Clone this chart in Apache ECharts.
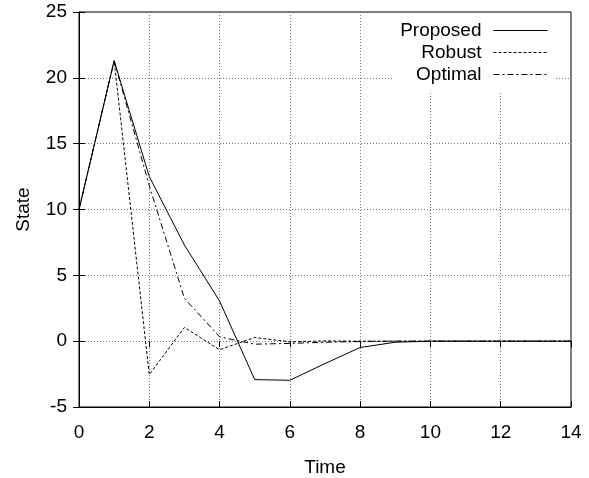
<!DOCTYPE html>
<html>
<head>
    <meta charset="utf-8">
    <title>State</title>
    <script src="https://cdn.jsdelivr.net/npm/echarts@6/dist/echarts.min.js"></script>
</head>
<body style="margin:0;">
    <div id="main" style="width: 589px;height:478px;"></div>
    <script type="text/javascript">
        var myChart = echarts.init(document.getElementById('main'));

        // time steps and the three state trajectories
        var time = [0, 1, 2, 3, 4, 5, 6, 7, 8, 9, 10, 11, 12, 13, 14];
        var proposed = [10, 21.3, 12.5, 7.3, 3.05, -2.92, -2.97, -1.7, -0.48, -0.08, 0, 0, 0, 0, 0];
        var robust = [10, 21.3, -2.54, 1.04, -0.65, 0.28, -0.05, 0.02, 0, 0, 0, 0, 0, 0, 0];
        var optimal = [10, 21.3, 11.8, 3.25, 0.33, -0.23, -0.17, -0.08, -0.03, 0, 0, 0, 0, 0, 0];

        function pairs(ys) {
            var out = [];
            for (var i = 0; i < time.length; i++) {
                out.push([time[i], ys[i]]);
            }
            return out;
        }

        var font = 'Liberation Sans';
        var gridLine = { show: true, lineStyle: { color: '#777', type: [1, 2], width: 1 } };
        var tick = { show: true, inside: true, length: 6, lineStyle: { color: '#000' } };

        var option = {
            animation: false,
            grid: {
                left: 79, right: 18, top: 12, bottom: 71,
                outerBoundsMode: 'none',
                show: true, borderColor: '#000', borderWidth: 1
            },
            legend: {
                orient: 'vertical',
                align: 'right',
                right: 33,
                top: 13,
                padding: 8,
                itemGap: 3,
                itemWidth: 54,
                itemHeight: 14,
                backgroundColor: '#fff',
                itemStyle: { opacity: 0, borderWidth: 0 },
                lineStyle: { width: 1 },
                textStyle: { fontFamily: font, fontSize: 19, color: '#000', padding: [0, 7, 0, 0] },
                data: ['Proposed', 'Robust', 'Optimal']
            },
            xAxis: [{
                type: 'value', min: 0, max: 14, interval: 2,
                name: 'Time', nameLocation: 'middle', nameGap: 51,
                nameTextStyle: { fontFamily: font, fontSize: 19, color: '#000' },
                axisLine: { show: true, onZero: false, lineStyle: { color: '#000' } },
                axisTick: tick,
                axisLabel: { fontFamily: font, fontSize: 19, color: '#000', margin: 16 },
                splitLine: gridLine
            }, {
                type: 'value', min: 0, max: 14, interval: 2, position: 'top',
                axisLine: { show: false }, axisTick: tick,
                axisLabel: { show: false }, splitLine: { show: false }
            }],
            yAxis: [{
                type: 'value', min: -5, max: 25, interval: 5,
                name: 'State', nameLocation: 'middle', nameGap: 46,
                nameTextStyle: { fontFamily: font, fontSize: 19, color: '#000' },
                axisLine: { show: true, onZero: false, lineStyle: { color: '#000' } },
                axisTick: tick,
                axisLabel: { fontFamily: font, fontSize: 19, color: '#000', margin: 12 },
                splitLine: gridLine
            }, {
                type: 'value', min: -5, max: 25, interval: 5, position: 'right',
                axisLine: { show: false }, axisTick: tick,
                axisLabel: { show: false }, splitLine: { show: false }
            }],
            series: [{
                name: 'Proposed', type: 'line', showSymbol: false, symbol: 'none',
                color: '#000',
                lineStyle: { color: '#000', width: 1, type: 'solid' },
                data: pairs(proposed)
            }, {
                name: 'Robust', type: 'line', showSymbol: false, symbol: 'none',
                color: '#000',
                lineStyle: { color: '#000', width: 1, type: [3, 2] },
                data: pairs(robust)
            }, {
                name: 'Optimal', type: 'line', showSymbol: false, symbol: 'none',
                color: '#000',
                lineStyle: { color: '#000', width: 1, type: [6, 3, 2, 3] },
                data: pairs(optimal)
            }]
        };

        myChart.setOption(option);
    </script>
</body>
</html>
